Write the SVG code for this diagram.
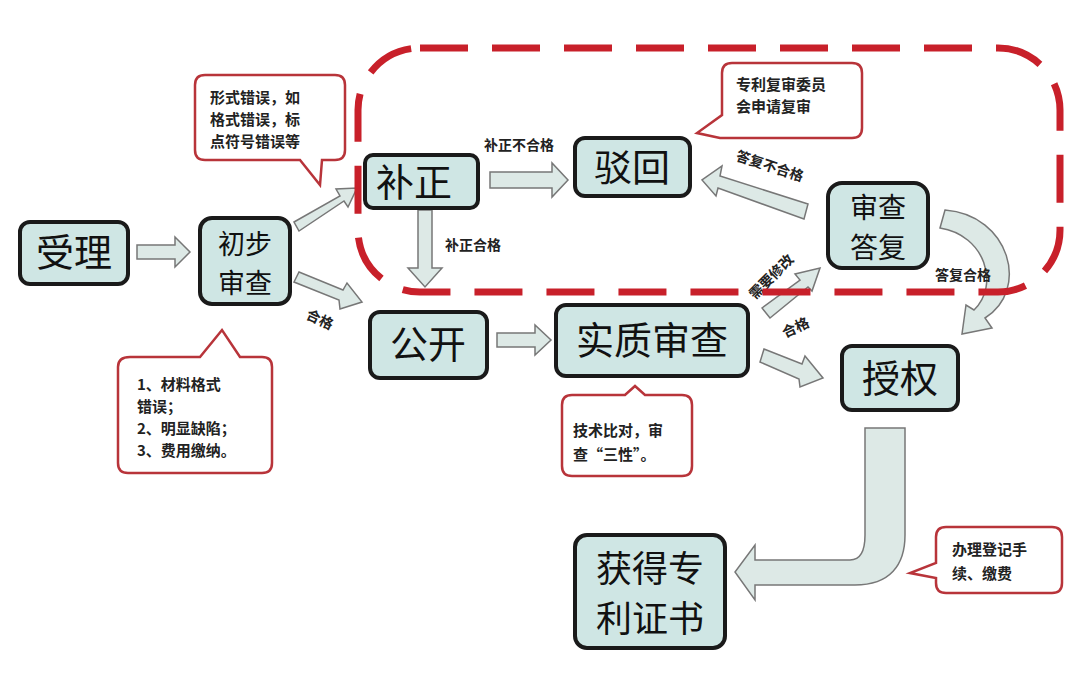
<svg xmlns="http://www.w3.org/2000/svg" width="1080" height="675" viewBox="0 0 1080 675">
<style>
.n{fill:#cfe6e4;stroke:#1a1a1a;stroke-width:4}
.nt{font-family:"Noto Sans CJK SC",sans-serif;font-size:38px;fill:#111;text-anchor:middle}
.s32{font-size:27px}
.s34{font-size:28px}
.s36{font-size:36px}
.c{fill:#fff;stroke:#b8343a;stroke-width:2.5}
.ct{font-family:"Noto Sans CJK SC",sans-serif;font-size:15px;font-weight:bold;fill:#222}
.a{fill:#dde9e6;stroke:#777;stroke-width:1.5}
.l{font-family:"Noto Sans CJK SC",sans-serif;font-size:14px;font-weight:bold;fill:#222}
</style>
<rect width="1080" height="675" fill="#fff"/>
<g id="connectors">
<polygon class="a" points="137,245 175,245 175,237 190,252 175,267 175,259 137,259"/>
<polygon class="a" points="294,222 340,196 336,189 357,188 348,207 344,201 299,231"/>
<polygon class="a" points="299,272 343,290 347,283 362,302 340,309 339,300 294,282"/>
<polygon class="a" points="490,172 552,172 552,163 568,180 552,197 552,188 490,188"/>
<polygon class="a" points="418,210 432,210 432,268 442,268 425,287 408,268 418,268"/>
<polygon class="a" points="808,204 720,176 722,166 702,180 716,196 718,188 804,219"/>
<polygon class="a" points="497,333 535,333 535,325 551,340 535,355 535,347 497,347"/>
<polygon class="a" points="762,308 800,280 795,274 820,268 812,291 808,287 770,318"/>
<polygon class="a" points="764,349 802,364 805,356 823,378 800,387 799,379 760,362"/>
<path class="a" d="M945,210 C1010,215 1030,290 985,318 L992,328 L962,334 L966,305 L974,310 C1000,285 985,235 940,228 Z"/>
<path class="a" d="M865,428 L905,428 L905,535 C905,565 890,585 855,585 L755,585 L755,600 L735,572 L755,545 L755,560 L850,560 C862,560 865,548 865,535 Z"/>
<text class="l" x="484" y="150">补正不合格</text>
<text class="l" x="445" y="250">补正合格</text>
<text class="l" transform="translate(735,160) rotate(18)">答复不合格</text>
<text class="l" transform="translate(755,300) rotate(-45)">需要修改</text>
<text class="l" transform="translate(785,338) rotate(-25)">合格</text>
<text class="l" transform="translate(305,318) rotate(25)">合格</text>
<text class="l" x="935" y="280">答复合格</text>
</g>
<rect x="358" y="48" width="702" height="244" rx="62" fill="none" stroke="#c8202a" stroke-width="7" stroke-dasharray="48 24"/>
<g id="n1"><rect class="n" x="20" y="222" width="108" height="62" rx="10"/><text class="nt" x="74" y="266">受理</text></g>
<g id="n2"><rect class="n" x="200" y="218" width="90" height="86" rx="12"/><text class="nt s32" x="245" y="254">初步</text><text class="nt s32" x="245" y="293">审查</text></g>
<g id="n3"><rect class="n" x="365" y="155" width="113" height="53" rx="8" stroke-width="2"/><text class="nt" x="414" y="196">补正</text></g>
<g id="n4"><rect class="n" x="575" y="138" width="115" height="58" rx="10" stroke-width="2"/><text class="nt" x="632" y="181">驳回</text></g>
<g id="n5"><rect class="n" x="828" y="183" width="100" height="85" rx="14" stroke-width="2"/><text class="nt s34" x="878" y="218">审查</text><text class="nt s34" x="878" y="258">答复</text></g>
<g id="n6"><rect class="n" x="370" y="312" width="117" height="66" rx="10"/><text class="nt" x="428" y="358">公开</text></g>
<g id="n7"><rect class="n" x="556" y="305" width="192" height="71" rx="10"/><text class="nt" x="652" y="354">实质审查</text></g>
<g id="n8"><rect class="n" x="842" y="346" width="116" height="64" rx="10"/><text class="nt" x="900" y="392">授权</text></g>
<g id="n9"><rect class="n" x="575" y="535" width="150" height="113" rx="12"/><text class="nt s36" x="650" y="582">获得专</text><text class="nt s36" x="650" y="632">利证书</text></g>
<g id="c1"><path class="c" d="M205,75 H335 Q345,75 345,85 V150 Q345,160 335,160 H322 L320,185 L300,160 H205 Q195,160 195,150 V85 Q195,75 205,75 Z"/><text class="ct" x="210" y="103">形式错误，如</text><text class="ct" x="210" y="125">格式错误，标</text><text class="ct" x="210" y="147">点符号错误等</text></g>
<g id="c2"><path class="c" d="M732,63 H852 Q862,63 862,73 V128 Q862,138 852,138 H720 L697,133 L722,115 V73 Q722,63 732,63 Z"/><text class="ct" x="736" y="90">专利复审委员</text><text class="ct" x="736" y="112">会申请复审</text></g>
<g id="c3"><path class="c" d="M130,357 H200 L222,330 L240,357 H262 Q272,357 272,367 V463 Q272,473 262,473 H128 Q118,473 118,463 V367 Q118,357 130,357 Z"/><text class="ct" x="137" y="390">1、材料格式</text><text class="ct" x="137" y="412">错误；</text><text class="ct" x="137" y="434">2、明显缺陷；</text><text class="ct" x="137" y="456">3、费用缴纳。</text></g>
<g id="c4"><path class="c" d="M572,395 H625 L635,386 L645,395 H682 Q692,395 692,405 V466 Q692,476 682,476 H572 Q562,476 562,466 V405 Q562,395 572,395 Z"/><text class="ct" x="573" y="436">技术比对，审</text><text class="ct" x="573" y="460">查“三性”。</text></g>
<g id="c5"><path class="c" d="M946,527 H1052 Q1062,527 1062,537 V583 Q1062,593 1052,593 H946 Q936,593 936,583 V578 L910,573 L936,563 V537 Q936,527 946,527 Z"/><text class="ct" x="952" y="555">办理登记手</text><text class="ct" x="952" y="579">续、缴费</text></g>
</svg>
